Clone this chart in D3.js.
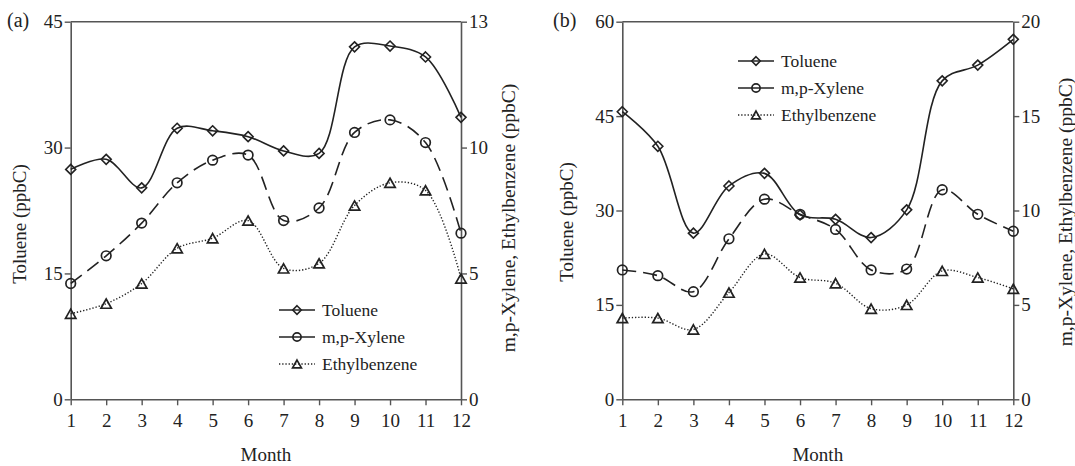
<!DOCTYPE html>
<html>
<head>
<meta charset="utf-8">
<script src="https://cdn.jsdelivr.net/npm/d3@7"></script>
<style>
  html, body { margin: 0; padding: 0; background: #fff; }
  svg { display: block; font-family: "Liberation Serif", "Times New Roman", serif; }
  svg text { font-family: "Liberation Serif", "Times New Roman", serif; }
</style>
</head>
<body>
<svg id="chart" width="1075" height="466"></svg>
<script>
// Monthly mean concentrations (ppbC)
const months = [1, 2, 3, 4, 5, 6, 7, 8, 9, 10, 11, 12];

// Panel (a)
const tolueneA = [27.4, 28.6, 25.2, 32.3, 32.0, 31.3, 29.6, 29.3, 42.0, 42.1, 40.8, 33.6];
const xyleneA  = [4.6, 5.7, 7.0, 8.6, 9.5, 9.7, 7.1, 7.6, 10.6, 11.1, 10.2, 6.6];
const ethylA   = [3.4, 3.8, 4.6, 6.0, 6.4, 7.1, 5.2, 5.4, 7.7, 8.6, 8.3, 4.8];

// Panel (b)
const tolueneB = [45.7, 40.2, 26.4, 33.9, 35.9, 29.3, 28.6, 25.7, 30.1, 50.6, 53.1, 57.2];
const xyleneB  = [6.85, 6.55, 5.7, 8.5, 10.6, 9.8, 9.0, 6.85, 6.9, 11.1, 9.8, 8.9];
const ethylB   = [4.3, 4.3, 3.7, 5.65, 7.7, 6.45, 6.15, 4.8, 5.0, 6.8, 6.45, 5.85];

// Axis ticks
const leftTicksA = [0, 15, 30, 45];
const rightTicksA = [0, 5, 10, 15];
const rightTickLabelsA = ["0", "5", "10", "13"];
const leftTicksB = [0, 15, 30, 45, 60];
const rightTicksB = [0, 5, 10, 15, 20];
const rightTickLabelsB = ["0", "5", "10", "15", "20"];

const seriesNames = ["Toluene", "m,p-Xylene", "Ethylbenzene"];

const INK = "#222";
const AXIS = "#555";
const SERIF = "Liberation Serif, Times New Roman, serif";

const svg = d3.select("#chart");

// marker shapes
function diamondPath(h) {
  return `M0,${-h}L${h},0L0,${h}L${-h},0Z`;
}
function trianglePath(w, h) {
  return `M0,${-h}L${w},${h}L${-w},${h}Z`;
}
function drawMarker(g, kind, x, y, scale) {
  const s = scale || 1;
  if (kind === 0) {
    g.append("path").attr("d", diamondPath(5 * s))
      .attr("transform", `translate(${x},${y})`)
      .attr("fill", "none").attr("stroke", INK).attr("stroke-width", 1.6);
  } else if (kind === 1) {
    g.append("circle").attr("cx", x).attr("cy", y).attr("r", 4.8 * s)
      .attr("fill", "none").attr("stroke", INK).attr("stroke-width", 1.7);
  } else {
    g.append("path").attr("d", trianglePath(5.2 * s, 4.6 * s))
      .attr("transform", `translate(${x},${y})`)
      .attr("fill", "none").attr("stroke", INK).attr("stroke-width", 1.7);
  }
}
const dashes = [null, "14 7", "1.3 1.9"];

function panel(cfg) {
  const g = svg.append("g");
  const x = d3.scaleLinear().domain([1, 12]).range([cfg.x0, cfg.x1]);
  const yL = d3.scaleLinear().domain([0, cfg.leftMax]).range([cfg.y1, cfg.y0]);
  const yR = d3.scaleLinear().domain([0, cfg.rightMax]).range([cfg.y1, cfg.y0]);

  // frame top line
  g.append("line").attr("x1", cfg.x0).attr("x2", cfg.x1)
    .attr("y1", cfg.y0).attr("y2", cfg.y0)
    .attr("stroke", AXIS).attr("stroke-width", 1.6);

  const styleAxis = sel => {
    sel.attr("font-family", SERIF);
    sel.selectAll("path.domain").attr("stroke", AXIS).attr("stroke-width", 1.6);
    sel.selectAll(".tick line").attr("stroke", AXIS).attr("stroke-width", 1.4);
    sel.selectAll(".tick text").attr("fill", "#222")
      .style("font-size", "19px").style("font-family", SERIF);
  };

  g.append("g").attr("transform", `translate(0,${cfg.y1})`)
    .call(d3.axisBottom(x).tickValues(months).tickFormat(d3.format("d"))
      .tickSize(6).tickSizeOuter(0).tickPadding(8))
    .call(styleAxis);

  g.append("g").attr("transform", `translate(${cfg.x0},0)`)
    .call(d3.axisLeft(yL).tickValues(cfg.leftTicks).tickFormat(d3.format("d"))
      .tickSize(6).tickSizeOuter(0).tickPadding(2))
    .call(styleAxis);

  g.append("g").attr("transform", `translate(${cfg.x1},0)`)
    .call(d3.axisRight(yR).tickValues(cfg.rightTicks)
      .tickFormat((d, i) => cfg.rightLabels[i])
      .tickSize(6).tickSizeOuter(0).tickPadding(2))
    .call(styleAxis);

  // series
  const data = [
    { vals: cfg.toluene, y: yL },
    { vals: cfg.xylene, y: yR },
    { vals: cfg.ethyl, y: yR }
  ];
  data.forEach((s, k) => {
    const line = d3.line()
      .x((d, i) => x(months[i]))
      .y(d => s.y(d))
      .curve(d3.curveCatmullRom.alpha(0.5));
    g.append("path").datum(s.vals).attr("d", line)
      .attr("fill", "none").attr("stroke", INK)
      .attr("stroke-width", k === 2 ? 1.4 : 1.6)
      .attr("stroke-dasharray", dashes[k]);
    s.vals.forEach((v, i) => drawMarker(g, k, x(months[i]), s.y(v)));
  });

  // legend
  const lg = g.append("g");
  seriesNames.forEach((name, k) => {
    const ly = cfg.legY + k * 27;
    lg.append("line").attr("x1", cfg.legX).attr("x2", cfg.legX + 36)
      .attr("y1", ly).attr("y2", ly)
      .attr("stroke", INK).attr("stroke-width", k === 2 ? 1.4 : 1.6)
      .attr("stroke-dasharray", k === 2 ? dashes[2] : null);
    drawMarker(lg, k, cfg.legX + 18, ly, 0.85);
    lg.append("text").attr("x", cfg.legX + 43).attr("y", ly)
      .attr("dy", "0.33em").attr("fill", "#222").attr("font-family", SERIF)
      .style("font-size", "17.5px").text(name);
  });

  // titles
  g.append("text").attr("x", cfg.tagX).attr("y", 27).attr("font-family", SERIF)
    .attr("fill", "#222").style("font-size", "20px").text(cfg.tag);

  g.append("text")
    .attr("transform", `translate(${cfg.leftTitleX},${cfg.leftTitleY}) rotate(-90)`)
    .attr("text-anchor", "middle").attr("dy", "0.35em").attr("fill", "#222")
    .attr("font-family", SERIF)
    .style("font-size", "19px").text("Toluene (ppbC)");

  g.append("text")
    .attr("transform", `translate(${cfg.rightTitleX},${cfg.rightTitleY}) rotate(-90)`)
    .attr("text-anchor", "middle").attr("dy", "0.35em").attr("fill", "#222")
    .attr("font-family", SERIF)
    .style("font-size", "19.5px").text("m,p-Xylene, Ethylbenzene (ppbC)");

  g.append("text").attr("x", (cfg.x0 + cfg.x1) / 2).attr("y", 461)
    .attr("text-anchor", "middle").attr("fill", "#222").attr("font-family", SERIF)
    .style("font-size", "19px").text("Month");
}

panel({
  tag: "(a)", tagX: 7,
  x0: 70.7, x1: 461, y0: 21.7, y1: 399.3,
  leftMax: 45, rightMax: 15,
  leftTicks: leftTicksA, rightTicks: rightTicksA, rightLabels: rightTickLabelsA,
  toluene: tolueneA, xylene: xyleneA, ethyl: ethylA,
  legX: 279, legY: 310,
  leftTitleX: 19, leftTitleY: 224,
  rightTitleX: 508, rightTitleY: 218
});

panel({
  tag: "(b)", tagX: 553,
  x0: 622.3, x1: 1013.3, y0: 21.7, y1: 399.3,
  leftMax: 60, rightMax: 20,
  leftTicks: leftTicksB, rightTicks: rightTicksB, rightLabels: rightTickLabelsB,
  toluene: tolueneB, xylene: xyleneB, ethyl: ethylB,
  legX: 738, legY: 61,
  leftTitleX: 566, leftTitleY: 222,
  rightTitleX: 1065, rightTitleY: 212
});
</script>
</body>
</html>
